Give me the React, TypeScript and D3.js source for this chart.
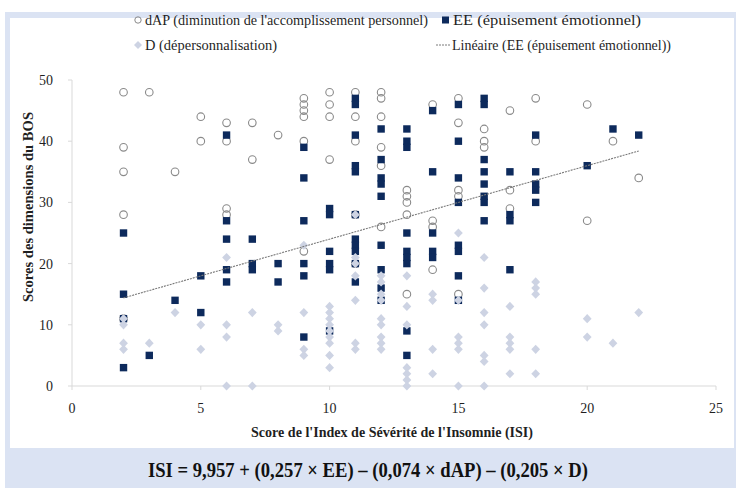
import React from "react";
import * as d3 from "d3";

// dAP (diminution de l'accomplissement personnel) : [ISI, score]
const dapPoints: [number, number][] = [
  [2, 48], [2, 39], [2, 35], [2, 28], [2, 11],
  [3, 48], [4, 35], [5, 44], [5, 40],
  [6, 43], [6, 40], [6, 29], [6, 28],
  [7, 43], [7, 37], [8, 41],
  [9, 47], [9, 46], [9, 45], [9, 44], [9, 40], [9, 22],
  [10, 48], [10, 46], [10, 44], [10, 37],
  [11, 48], [11, 44], [11, 40], [11, 28], [11, 20],
  [12, 48], [12, 47], [12, 44], [12, 39], [12, 36], [12, 26],
  [13, 32], [13, 31], [13, 30], [13, 28], [13, 15],
  [14, 46], [14, 27], [14, 26], [14, 19],
  [15, 47], [15, 43], [15, 32], [15, 31], [15, 15],
  [16, 42], [16, 40], [16, 39],
  [17, 45], [17, 32], [17, 29],
  [18, 47], [18, 40],
  [20, 46], [20, 27], [21, 40], [22, 34],
];

// EE (épuisement émotionnel)
const eePoints: [number, number][] = [
  [2, 25], [2, 15], [2, 11], [2, 3],
  [3, 5], [4, 14], [5, 18], [5, 12],
  [6, 41], [6, 27], [6, 24], [6, 19], [6, 17],
  [7, 24], [7, 20], [7, 19],
  [8, 20], [8, 17],
  [9, 39], [9, 34], [9, 27], [9, 20], [9, 18], [9, 8],
  [10, 29], [10, 28], [10, 22], [10, 20], [10, 19], [10, 9],
  [11, 47], [11, 46], [11, 41], [11, 36], [11, 35], [11, 28], [11, 24], [11, 23], [11, 22], [11, 20], [11, 17],
  [12, 42], [12, 37], [12, 34], [12, 33], [12, 31], [12, 23], [12, 19], [12, 16], [12, 14],
  [13, 42], [13, 40], [13, 39], [13, 25], [13, 22], [13, 21], [13, 20], [13, 9], [13, 5],
  [14, 45], [14, 35], [14, 25], [14, 22], [14, 21],
  [15, 46], [15, 40], [15, 34], [15, 30], [15, 23], [15, 22], [15, 18], [15, 14],
  [16, 47], [16, 46], [16, 37], [16, 35], [16, 33], [16, 31], [16, 30], [16, 27],
  [17, 35], [17, 28], [17, 27], [17, 19],
  [18, 41], [18, 35], [18, 33], [18, 32], [18, 30],
  [20, 36], [21, 42], [22, 41],
];

// D (dépersonnalisation)
const dPoints: [number, number][] = [
  [2, 11], [2, 10], [2, 7], [2, 6],
  [3, 7], [4, 12], [5, 10], [5, 6],
  [6, 21], [6, 10], [6, 8], [6, 0],
  [7, 12], [7, 0], [8, 10], [8, 9],
  [9, 23], [9, 12], [9, 6], [9, 5],
  [10, 13], [10, 12], [10, 11], [10, 10], [10, 9], [10, 8], [10, 7], [10, 5], [10, 3],
  [11, 28], [11, 21], [11, 20], [11, 18], [11, 14], [11, 7], [11, 6],
  [12, 18], [12, 17], [12, 15], [12, 14], [12, 11], [12, 10], [12, 8], [12, 7], [12, 6],
  [13, 18], [13, 13], [13, 10], [13, 3], [13, 2], [13, 1], [13, 0],
  [14, 15], [14, 14], [14, 6], [14, 2],
  [15, 25], [15, 14], [15, 8], [15, 7], [15, 6], [15, 0],
  [16, 21], [16, 16], [16, 12], [16, 10], [16, 5], [16, 4], [16, 0],
  [17, 13], [17, 8], [17, 7], [17, 6], [17, 2],
  [18, 17], [18, 16], [18, 15], [18, 6], [18, 2],
  [20, 11], [20, 8], [21, 7], [22, 12],
];

// linear trend of EE
const trendIntercept = 12.0;
const trendSlope = 1.2;
const trendRange = [2, 22];

const xTicks = [0, 5, 10, 15, 20, 25];
const yTicks = [0, 10, 20, 30, 40, 50];

const W = 736, H = 488;
const serif = { fontFamily: "'Liberation Serif', 'Times New Roman', serif" };
const axisColor = "#d9d9d9";
const ink = "#1f1f1f";

export default function App() {
  const x = d3.scaleLinear().domain([0, 25]).range([72, 716]);
  const y = d3.scaleLinear().domain([0, 50]).range([386, 80]);

  const trend = d3.line<number>()
    .x(d => x(d))
    .y(d => y(trendIntercept + trendSlope * d));

  return (
    <svg width={W} height={H} style={{ position: "absolute", left: 0, top: 0, ...serif }}>
      <rect x={0} y={0} width={W} height={H} fill="#fff" />
      <rect x={5} y={12} width={W - 5} height={H - 12} fill="#dbe3f3" />
      <rect x={10} y={18} width={724} height={430} fill="#fff" />

      {/* legend */}
      <g fontSize={14} fill={ink}>
        <circle cx={138} cy={20} r={3.2} fill="none" stroke="#8a8a8a" />
        <text x={145} y={25} textLength={283} lengthAdjust="spacingAndGlyphs" style={serif}>dAP (diminution de l'accomplissement personnel)</text>
        <rect x={442} y={16.5} width={7} height={7} fill="#0d2a5c" />
        <text x={453} y={25} textLength={188} lengthAdjust="spacingAndGlyphs" style={serif}>EE (épuisement émotionnel)</text>
        <path d="M138,41 L142,45 L138,49 L134,45 Z" fill="#cdd3e3" />
        <text x={145} y={50} textLength={132} lengthAdjust="spacingAndGlyphs" style={serif}>D (dépersonnalisation)</text>
        <line x1={436} x2={451} y1={45} y2={45} stroke="#7a7a7a" strokeDasharray="2,1" />
        <text x={452} y={50} textLength={219} lengthAdjust="spacingAndGlyphs" style={serif}>Linéaire (EE (épuisement émotionnel))</text>
      </g>

      {/* axes */}
      <line x1={x(0)} x2={x(0)} y1={y(50)} y2={y(0)} stroke={axisColor} />
      <line x1={x(0)} x2={x(25)} y1={y(0)} y2={y(0)} stroke={axisColor} />
      {yTicks.map(t => (
        <g key={"y" + t}>
          <line x1={x(0) - 4} x2={x(0)} y1={y(t)} y2={y(t)} stroke={axisColor} />
          <text x={x(0) - 19} y={y(t)} dy="0.35em" textAnchor="end" fontSize={14} fill={ink} style={serif}>{t}</text>
        </g>
      ))}
      {xTicks.map(t => (
        <g key={"x" + t}>
          <line x1={x(t)} x2={x(t)} y1={y(0)} y2={y(0) + 4} stroke={axisColor} />
          <text x={x(t)} y={413} textAnchor="middle" fontSize={14} fill={ink} style={serif}>{t}</text>
        </g>
      ))}
      <text x={392} y={437} textAnchor="middle" fontSize={14} fontWeight="bold" fill={ink} style={serif}
        textLength={282} lengthAdjust="spacingAndGlyphs">
        Score de l'Index de Sévérité de l'Insomnie (ISI)
      </text>
      <text transform="translate(33,207) rotate(-90)" textAnchor="middle" fontSize={14} fontWeight="bold" fill={ink} style={serif}
        textLength={190} lengthAdjust="spacingAndGlyphs">
        Scores des dimensions du BOS
      </text>

      {/* series */}
      <g>
        {dapPoints.map((d, i) => (
          <circle key={"a" + i} cx={x(d[0])} cy={y(d[1])} r={3.8} fill="none" stroke="#8a8a8a" strokeWidth={1.1} />
        ))}
      </g>
      <g>
        {eePoints.map((d, i) => (
          <rect key={"e" + i} x={x(d[0]) - 3.7} y={y(d[1]) - 3.7} width={7.4} height={7.4} fill="#0d2a5c" />
        ))}
      </g>
      <g>
        {dPoints.map((d, i) => {
          const cx = x(d[0]), cy = y(d[1]);
          return <path key={"d" + i} d={`M${cx},${cy - 4.6} L${cx + 4.4},${cy} L${cx},${cy + 4.6} L${cx - 4.4},${cy} Z`} fill="#cdd3e3" />;
        })}
      </g>
      <path d={trend(trendRange) || ""} fill="none" stroke="#7a7a7a" strokeWidth={1.1} strokeDasharray="2,1" />

      {/* formula band */}
      <text x={368} y={477} textAnchor="middle" fontSize={20} fontWeight="bold" fill="#111" style={serif}
        textLength={440} lengthAdjust="spacingAndGlyphs">
        ISI = 9,957 + (0,257 × EE) – (0,074 × dAP) – (0,205 × D)
      </text>
    </svg>
  );
}
